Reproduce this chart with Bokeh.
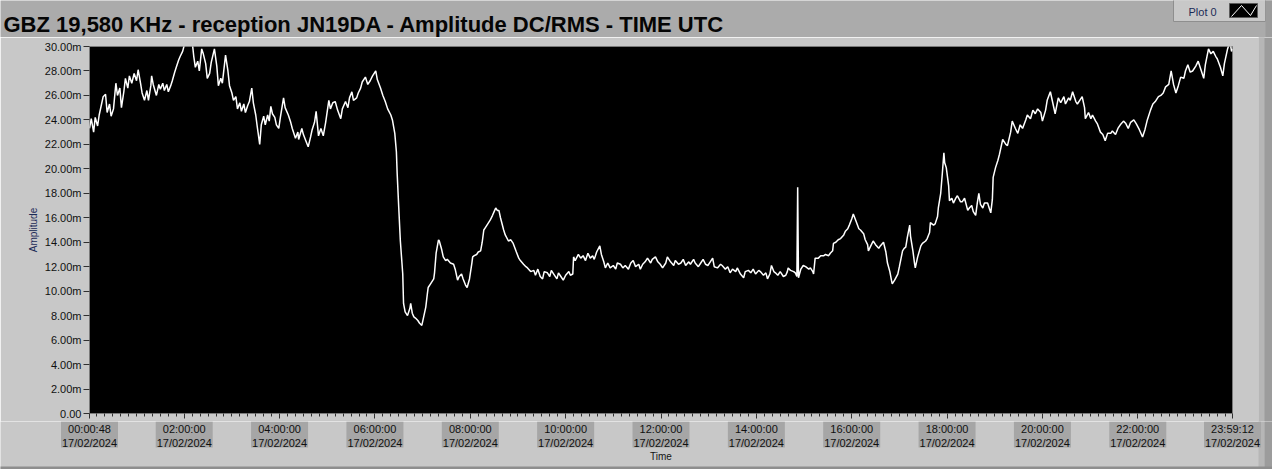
from bokeh.plotting import figure
from bokeh.layouts import column, row
from bokeh.models import Range1d, FixedTicker, Label
from bokeh.core.properties import value
from bokeh.embed import file_html
from bokeh.resources import INLINE

# ---------------- data ----------------
TITLE = "GBZ  19,580 KHz - reception JN19DA -  Amplitude DC/RMS   - TIME UTC"
DATE = "17/02/2024"
SERIES_NAME = "Plot 0"
X_LABEL = "Time"
Y_LABEL = "Amplitude"

# minutes after 00:00 UTC
time_min = [
    0.8, 3, 6, 8, 11, 13, 16, 18, 21, 23, 26, 28, 31, 34, 36, 39, 41, 44, 46, 49,
    51, 54, 57, 60, 62, 65, 67, 70, 73, 75, 78, 79, 81, 85, 88, 90, 93, 95, 98, 100,
    103, 105, 108, 110, 113, 115, 118, 120, 123, 125, 128, 130, 132, 134, 137, 139, 142, 144, 147, 149,
    152, 154, 158, 161, 163, 166, 168, 172, 175, 177, 180, 182, 185, 187, 190, 192, 195, 197, 200, 202,
    205, 207, 210, 212, 215, 217, 220, 222, 225, 227, 229, 231, 234, 236, 239, 241, 245, 247, 251, 254,
    256, 260, 263, 264, 268, 270, 273, 276, 279, 281, 284, 286, 289, 292, 295, 298, 302, 304, 307, 310,
    313, 317, 319, 323, 326, 328, 331, 333, 337, 339, 342, 344, 348, 351, 354, 357, 361, 363, 367, 370,
    373, 376, 380, 382, 385, 387, 388, 390, 392, 395, 396, 398, 401, 404, 405, 407, 409, 411, 414, 416,
    419, 421, 424, 426, 427, 430, 434, 435, 437, 440, 441, 444, 446, 449, 451, 455, 459, 461, 464, 466,
    469, 471, 474, 476, 479, 482, 483, 485, 488, 490, 493, 495, 497, 499, 502, 505, 508, 510, 512, 514,
    516, 518, 522, 524, 528, 531, 534, 538, 541, 543, 547, 550, 552, 556, 560, 562, 565, 568, 571, 573,
    577, 580, 582, 585, 589, 591, 594, 597, 600, 604, 606, 609, 610, 612, 616, 619, 622, 625, 628, 631,
    634, 636, 639, 643, 645, 648, 650, 653, 656, 660, 663, 665, 669, 672, 675, 679, 682, 685, 688, 692,
    694, 697, 700, 703, 707, 709, 713, 716, 719, 722, 726, 728, 732, 736, 738, 742, 745, 748, 751, 755,
    757, 761, 763, 767, 770, 773, 776, 779, 782, 785, 787, 791, 795, 797, 801, 804, 807, 810, 814, 816,
    820, 824, 826, 830, 833, 836, 839, 843, 845, 849, 852, 854, 857, 859, 862, 864, 867, 870, 874, 877,
    879, 880, 883, 887, 889, 891, 892, 893, 896, 899, 902, 906, 908, 911, 912, 914, 918, 921, 925, 927,
    931, 933, 936, 937, 940, 943, 946, 950, 952, 955, 957, 960, 962, 965, 969, 971, 975, 977, 980, 981,
    984, 987, 990, 994, 996, 1000, 1003, 1005, 1008, 1010, 1011, 1014, 1018, 1020, 1024, 1026, 1028, 1030, 1033, 1034,
    1037, 1039, 1040, 1043, 1047, 1049, 1053, 1055, 1058, 1059, 1063, 1065, 1068, 1069, 1072, 1074, 1076, 1077, 1079, 1082,
    1083, 1086, 1088, 1091, 1093, 1097, 1099, 1102, 1106, 1108, 1111, 1113, 1116, 1118, 1120, 1122, 1125, 1127, 1131, 1133,
    1135, 1137, 1138, 1141, 1144, 1146, 1150, 1154, 1156, 1160, 1162, 1166, 1169, 1172, 1175, 1179, 1181, 1185, 1188, 1191,
    1194, 1198, 1200, 1204, 1206, 1210, 1213, 1216, 1220, 1223, 1227, 1229, 1233, 1235, 1238, 1242, 1244, 1248, 1250, 1253,
    1254, 1258, 1261, 1263, 1267, 1269, 1273, 1276, 1279, 1282, 1286, 1288, 1292, 1295, 1298, 1302, 1305, 1308, 1311, 1315,
    1318, 1322, 1326, 1329, 1332, 1336, 1339, 1342, 1346, 1349, 1352, 1355, 1359, 1362, 1365, 1368, 1371, 1374, 1378, 1380,
    1383, 1386, 1389, 1393, 1396, 1399, 1403, 1405, 1409, 1412, 1415, 1418, 1420, 1424, 1427, 1429, 1433, 1436, 1438, 1439.2,
]

# amplitude in milli-units (axis shows "m")
amplitude_m = [
    23.3, 24.1, 23.0, 24.2, 23.5, 24.4, 25.3, 25.9, 26.1, 24.6, 25.3, 24.3, 24.9, 27.0, 26.0, 26.6, 25.0, 26.3, 27.4, 26.6,
    27.6, 27.0, 27.8, 27.2, 28.1, 27.0, 26.2, 25.6, 26.4, 25.6, 26.8, 27.6, 26.9, 26.0, 26.9, 26.5, 27.0, 26.4, 26.9, 26.3,
    26.8, 27.2, 27.9, 28.3, 28.9, 29.2, 29.6, 30.1, 30.6, 31.0, 30.8, 30.4, 29.2, 28.3, 28.8, 28.0, 29.8, 29.4, 28.6, 27.4,
    27.8, 28.7, 29.8, 28.4, 26.8, 27.4, 27.0, 29.3, 28.0, 26.8, 26.2, 25.6, 25.9, 24.9, 25.4, 24.7, 25.3, 24.6, 25.2, 25.5,
    26.6, 25.4, 24.4, 23.4, 22.0, 23.6, 24.3, 23.6, 24.4, 23.9, 25.1, 24.5, 24.2, 23.6, 23.3, 24.2, 25.8, 25.0, 24.4, 23.8,
    23.3, 22.5, 23.0, 22.4, 23.3, 22.8, 22.3, 21.8, 22.6, 23.2, 23.8, 24.7, 22.7, 23.3, 22.7, 23.8, 25.6, 24.9, 25.4, 25.5,
    24.8, 24.1, 24.9, 25.5, 25.0, 25.8, 26.3, 25.6, 25.8, 26.2, 26.6, 27.1, 27.5, 26.9, 27.2, 27.6, 28.0, 27.3, 26.6, 26.0,
    25.5, 24.9, 24.4, 24.0, 22.9, 21.4, 19.6, 16.8, 14.1, 11.4, 9.0, 8.3, 8.0, 8.6, 9.0, 8.2, 7.9, 7.8, 7.6, 7.4,
    7.2, 7.8, 8.7, 9.8, 10.3, 10.6, 11.0, 11.5, 13.1, 14.2, 14.1, 13.4, 12.8, 12.5, 12.6, 12.3, 12.2, 11.8, 10.9, 11.2,
    11.4, 11.0, 10.5, 10.3, 11.0, 12.3, 12.8, 12.9, 13.0, 13.2, 13.3, 14.0, 15.0, 15.2, 15.5, 15.8, 16.2, 16.5, 16.8, 16.6,
    16.6, 16.0, 15.0, 14.6, 14.1, 14.2, 13.9, 13.2, 12.7, 12.5, 12.2, 12.0, 11.9, 11.6, 11.7, 11.3, 11.8, 11.2, 11.0, 11.6,
    11.5, 11.2, 11.7, 11.4, 11.0, 11.5, 11.2, 10.9, 11.3, 11.6, 11.3, 11.4, 12.8, 12.5, 13.0, 12.7, 12.9, 12.5, 13.1, 12.7,
    12.9, 12.6, 13.2, 13.7, 13.0, 12.4, 11.9, 12.3, 11.9, 12.1, 11.8, 12.3, 12.2, 11.9, 12.1, 11.8, 12.3, 12.5, 12.0, 12.2,
    11.8, 12.2, 12.4, 12.7, 12.3, 12.6, 12.8, 12.4, 12.2, 11.9, 12.3, 12.8, 12.4, 12.1, 12.5, 12.2, 12.3, 12.6, 12.1, 12.4,
    12.2, 12.6, 12.3, 12.0, 12.3, 12.6, 12.2, 12.1, 12.4, 12.7, 12.0, 11.9, 12.2, 12.1, 11.8, 12.0, 11.5, 11.8, 11.6, 11.9,
    11.4, 11.1, 11.6, 11.7, 11.5, 11.8, 11.4, 11.7, 11.6, 11.3, 11.5, 11.0, 11.4, 12.1, 11.6, 11.5, 11.3, 11.6, 11.2, 11.3,
    11.6, 11.9, 11.7, 11.6, 11.5, 11.2, 18.5, 11.1, 11.8, 12.1, 12.0, 11.8, 11.9, 11.6, 11.4, 12.7, 12.7, 12.9, 12.9, 13.0,
    12.9, 13.1, 13.3, 13.9, 14.0, 14.2, 14.3, 14.6, 14.9, 15.1, 15.4, 15.9, 16.3, 15.8, 15.1, 15.0, 14.7, 14.2, 13.8, 13.3,
    13.7, 14.1, 13.8, 13.5, 13.7, 14.0, 13.2, 12.3, 11.6, 10.9, 10.6, 10.9, 11.4, 12.0, 13.3, 13.5, 13.6, 14.4, 15.4, 14.5,
    13.3, 12.3, 11.9, 12.8, 13.7, 13.9, 14.1, 14.3, 14.8, 15.6, 15.4, 15.5, 16.1, 16.8, 18.0, 19.6, 21.3, 20.5, 20.1, 18.6,
    17.4, 17.6, 17.2, 17.6, 17.8, 17.3, 17.3, 17.6, 16.6, 16.8, 17.0, 16.5, 16.2, 17.2, 18.0, 17.1, 16.8, 17.2, 17.2, 16.8,
    16.4, 17.5, 19.3, 20.1, 20.7, 21.2, 22.4, 22.0, 21.9, 23.0, 23.9, 23.3, 22.9, 23.6, 23.3, 24.0, 24.4, 24.1, 24.8, 24.5,
    24.9, 24.6, 23.9, 24.8, 25.6, 26.3, 25.4, 24.5, 25.8, 25.4, 25.9, 25.3, 25.8, 25.6, 26.3, 25.5, 25.3, 25.7, 25.9, 25.0,
    24.1, 24.6, 24.1, 24.4, 23.9, 23.7, 23.0, 22.8, 22.3, 22.9, 22.9, 23.1, 22.8, 23.3, 23.6, 23.9, 23.7, 23.3, 23.8, 24.0,
    23.7, 23.2, 22.6, 23.2, 24.0, 24.8, 25.3, 25.5, 25.9, 26.0, 26.2, 26.7, 26.9, 28.0, 26.9, 26.2, 26.8, 27.5, 27.4, 28.0,
    28.5, 27.9, 28.0, 28.4, 28.8, 28.2, 27.4, 28.5, 29.8, 29.4, 29.6, 29.2, 29.0, 28.3, 27.6, 28.6, 29.8, 30.4, 29.6, 29.8,
]

x_tick_min = [0.8, 120, 240, 360, 480, 600, 720, 840, 960, 1080, 1200, 1320, 1439.2]
x_tick_times = ["00:00:48", "02:00:00", "04:00:00", "06:00:00", "08:00:00", "10:00:00", "12:00:00",
                "14:00:00", "16:00:00", "18:00:00", "20:00:00", "22:00:00", "23:59:12"]
x_minor_min = [m for m in range(10, 1440, 10) if m % 120 != 0]

y_tick_vals = [0, 2, 4, 6, 8, 10, 12, 14, 16, 18, 20, 22, 24, 26, 28, 30]
y_tick_labels = ["0.00", "2.00m", "4.00m", "6.00m", "8.00m", "10.00m", "12.00m", "14.00m",
                 "16.00m", "18.00m", "20.00m", "22.00m", "24.00m", "26.00m", "28.00m", "30.00m"]

# ---------------- styles / geometry ----------------
HEADER_BG = "#ABABAB"
PANEL_BG = "#C8C8C8"
LABEL_BG = "#A6A6A6"
EDGE_LIGHT = "#B6B6B6"
EDGE_DARK = "#9C9C9C"
EDGE_BOTTOM = "#8E8E8E"
TEXT_DARK = "#101010"
NAVY = "#1B2A57"
FONT = "Liberation Sans"
W, H = 1272, 469
HEAD_H = 37
STRIP_W = 14
MAIN_W = W - STRIP_W                 # 1258
FL, FT, FB = 89, 9, 8
FRAME_W, FRAME_H = 1143, 367
FR = MAIN_W - FL - FRAME_W
MAIN_H = FT + FRAME_H + FB
AX_H = H - HEAD_H - MAIN_H           # tick-label strip below the plot
TICK_BOX_HALF_PX = 28.5
BASE_SHIFT = 0.3                     # em offset of Bokeh's alphabetic baseline


def no_align(f):
    try:
        f.frame_align = False
    except Exception:
        pass
    return f


def bare(width, height, x_range, y_range, fill):
    f = figure(width=width, height=height, x_range=x_range, y_range=y_range,
               toolbar_location=None, output_backend="svg", min_border=0,
               x_axis_location=None, y_axis_location=None, outline_line_color=None,
               background_fill_color=fill, border_fill_color=fill)
    f.grid.visible = False
    return no_align(f)


# ---------------- header: title + legend ----------------
header = bare(W, HEAD_H, Range1d(0, W), Range1d(HEAD_H, 0), HEADER_BG)
header.add_layout(Label(x=3, y=31 - BASE_SHIFT * 22, text=TITLE, text_font=FONT, text_font_style="bold",
                        text_font_size="22px", text_color="#050505", text_baseline="alphabetic"))
header.quad(left=[1173], right=[1265], top=[-1], bottom=[21], fill_color=PANEL_BG,
            line_color="#8E8E8E", line_width=1)
header.quad(left=[1265], right=[W + 1], top=[-1], bottom=[HEAD_H + 1], fill_color=EDGE_DARK, line_color=None)
header.quad(left=[1229], right=[1257], top=[3], bottom=[17], fill_color="black", line_color="#5A5A5A")
header.line(x=[1231, 1241, 1250, 1256], y=[16, 5, 15, 5], line_color="white", line_width=1)
header.add_layout(Label(x=1188, y=15 - BASE_SHIFT * 11, text=SERIES_NAME, text_font=FONT,
                        text_font_size="11px", text_color=NAVY, text_baseline="alphabetic"))

# ---------------- main plot ----------------
p = figure(width=MAIN_W, height=MAIN_H,
           x_range=Range1d(x_tick_min[0], x_tick_min[-1]), y_range=Range1d(0, 30),
           toolbar_location=None, output_backend="svg",
           min_border_left=FL, min_border_right=FR, min_border_top=FT, min_border_bottom=FB,
           background_fill_color="black", border_fill_color=PANEL_BG,
           outline_line_color="#7A7A7A", outline_line_width=1)
no_align(p)
p.grid.visible = False
p.line(time_min, amplitude_m, line_color="white", line_width=1.5)

xa = p.xaxis[0]
xa.ticker = FixedTicker(ticks=x_tick_min, minor_ticks=x_minor_min)
xa.major_label_overrides = {t: "" for t in x_tick_min}
xa.major_label_text_font_size = "0px"
xa.major_label_standoff = 0
xa.axis_line_color = None
xa.major_tick_line_color = "#303030"
xa.minor_tick_line_color = "#303030"
xa.major_tick_out = 5
xa.major_tick_in = 0
xa.minor_tick_out = 3
xa.minor_tick_in = 0

ya = p.yaxis[0]
ya.ticker = FixedTicker(ticks=y_tick_vals, minor_ticks=[])
ya.major_label_overrides = dict(zip(y_tick_vals, y_tick_labels))
ya.axis_label = Y_LABEL
ya.axis_line_color = None
ya.major_tick_line_color = "#303030"
ya.minor_tick_line_color = None
ya.major_tick_out = 6
ya.major_tick_in = 0
ya.major_label_standoff = 2
ya.major_label_text_font = FONT
ya.major_label_text_font_size = "11px"
ya.major_label_text_color = TEXT_DARK
ya.axis_label_standoff = 3
ya.axis_label_text_font = FONT
ya.axis_label_text_font_size = "10px"
ya.axis_label_text_font_style = "normal"
ya.axis_label_text_color = NAVY

# right window edge beside the plot
strip = bare(STRIP_W, MAIN_H, Range1d(0, STRIP_W), Range1d(MAIN_H, 0), EDGE_DARK)
strip.quad(left=[0], right=[6], top=[-1], bottom=[MAIN_H + 1], fill_color=EDGE_LIGHT, line_color=None)

# ---------------- time labels strip (same time scale as the plot) ----------------
k = (x_tick_min[-1] - x_tick_min[0]) / FRAME_W          # minutes per pixel
ax = bare(W, AX_H,
          Range1d(x_tick_min[0] - FL * k, x_tick_min[-1] + (W - FL - FRAME_W) * k),
          Range1d(AX_H, 0), PANEL_BG)
ax.extra_x_ranges = {"px": Range1d(0, W)}
ax.quad(left=[MAIN_W], right=[MAIN_W + 6], top=-1, bottom=AX_H + 1, fill_color=EDGE_LIGHT,
        line_color=None, x_range_name="px")
ax.quad(left=[MAIN_W + 6], right=[W + 1], top=-1, bottom=AX_H + 1, fill_color=EDGE_DARK,
        line_color=None, x_range_name="px")
half = TICK_BOX_HALF_PX * k
ax.quad(left=[t - half for t in x_tick_min], right=[t + half for t in x_tick_min],
        top=0, bottom=26, fill_color=LABEL_BG, line_color=None)
ax.text(x=x_tick_min, y=10.7 - BASE_SHIFT * 11, text=x_tick_times, text_font=value(FONT),
        text_font_size=value("11px"), text_color=TEXT_DARK, text_align="center",
        text_baseline="alphabetic")
ax.text(x=x_tick_min, y=24.7 - BASE_SHIFT * 11, text=[DATE] * len(x_tick_min), text_font=value(FONT),
        text_font_size=value("11px"), text_color=TEXT_DARK, text_align="center",
        text_baseline="alphabetic")
ax.add_layout(Label(x=(x_tick_min[0] + x_tick_min[-1]) / 2, y=38.3 - BASE_SHIFT * 10, text=X_LABEL,
                    text_font=FONT, text_font_size="10px", text_color="#151515", text_align="center",
                    text_baseline="alphabetic"))
ax.quad(left=[-1], right=[W + 1], top=AX_H - 3, bottom=AX_H + 1, fill_color=EDGE_BOTTOM,
        line_color=None, x_range_name="px")

layout = column(header, row(p, strip, spacing=0), ax, spacing=0)
open("out.html", "w").write(file_html(layout, INLINE))
